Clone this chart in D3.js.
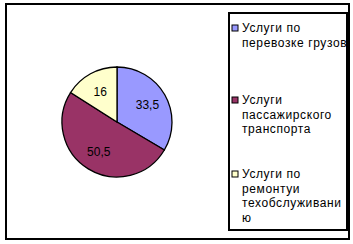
<!DOCTYPE html>
<html>
<head>
<meta charset="utf-8">
<script src="https://cdn.jsdelivr.net/npm/d3@7"></script>
<style>
  body { margin: 0; background: #fff; }
  text { font-family: "Liberation Sans", Arial, sans-serif; }
</style>
</head>
<body>
<script>
var categories = ["Услуги по перевозке грузов", "Услуги пассажирского транспорта", "Услуги по ремонтуи техобслуживанию"],
    values = [33.5, 50.5, 16],
    valueLabels = ["33,5", "50,5", "16"],
    legendLines = [["Услуги по", "перевозке грузов"], ["Услуги", "пассажирского", "транспорта"], ["Услуги по", "ремонтуи", "техобслуживани", "ю"]],
    colors = ["#9999ff", "#993366", "#ffffcc"];

var width = 353, height = 244;

var svg = d3.select("body").append("svg")
  .attr("width", width)
  .attr("height", height);

// outer frame
svg.append("rect")
  .attr("x", 6).attr("y", 4)
  .attr("width", 343).attr("height", 235)
  .attr("fill", "#fff")
  .attr("stroke", "#000")
  .attr("stroke-width", 2);

// pie
var pie = d3.pie().sort(null).value(function(d) { return d; });
var arc = d3.arc().innerRadius(0).outerRadius(55);
var labelArc = d3.arc().innerRadius(35).outerRadius(35);

var g = svg.append("g").attr("transform", "translate(117,122)");
var slices = g.selectAll("g.slice").data(pie(values)).enter().append("g").attr("class", "slice");

slices.append("path")
  .attr("d", arc)
  .attr("fill", function(d, i) { return colors[i]; })
  .attr("stroke", "#000")
  .attr("stroke-width", 1.3);

slices.append("text")
  .attr("transform", function(d) { return "translate(" + labelArc.centroid(d) + ")"; })
  .attr("text-anchor", "middle")
  .attr("dy", "0.35em")
  .attr("font-size", 12)
  .attr("fill", "#000")
  .text(function(d, i) { return valueLabels[i]; });

// legend
var lx = 229, ly = 13, lw = 118, lh = 217;
svg.append("clipPath").attr("id", "legclip")
  .append("rect").attr("x", lx).attr("y", ly).attr("width", lw - 1).attr("height", lh);

svg.append("rect")
  .attr("x", lx).attr("y", ly)
  .attr("width", lw).attr("height", lh)
  .attr("fill", "#fff")
  .attr("stroke", "#000")
  .attr("stroke-width", 2);

var itemTop = [28, 100, 174];
var leg = svg.append("g").attr("clip-path", "url(#legclip)");
var items = leg.selectAll("g.item").data(categories).enter().append("g")
  .attr("class", "item")
  .attr("transform", function(d, i) { return "translate(0," + itemTop[i] + ")"; });

items.append("rect")
  .attr("x", 232).attr("y", -3)
  .attr("width", 6).attr("height", 6)
  .attr("fill", function(d, i) { return colors[i]; })
  .attr("stroke", "#000")
  .attr("stroke-width", 1);

items.each(function(d, i) {
  var t = d3.select(this).append("text")
    .attr("font-size", 12)
    .attr("letter-spacing", 0.6)
    .attr("fill", "#000");
  legendLines[i].forEach(function(line, j) {
    t.append("tspan")
      .attr("x", 242)
      .attr("y", j * 14.6)
      .attr("dy", "0.35em")
      .text(line);
  });
});
</script>
</body>
</html>
